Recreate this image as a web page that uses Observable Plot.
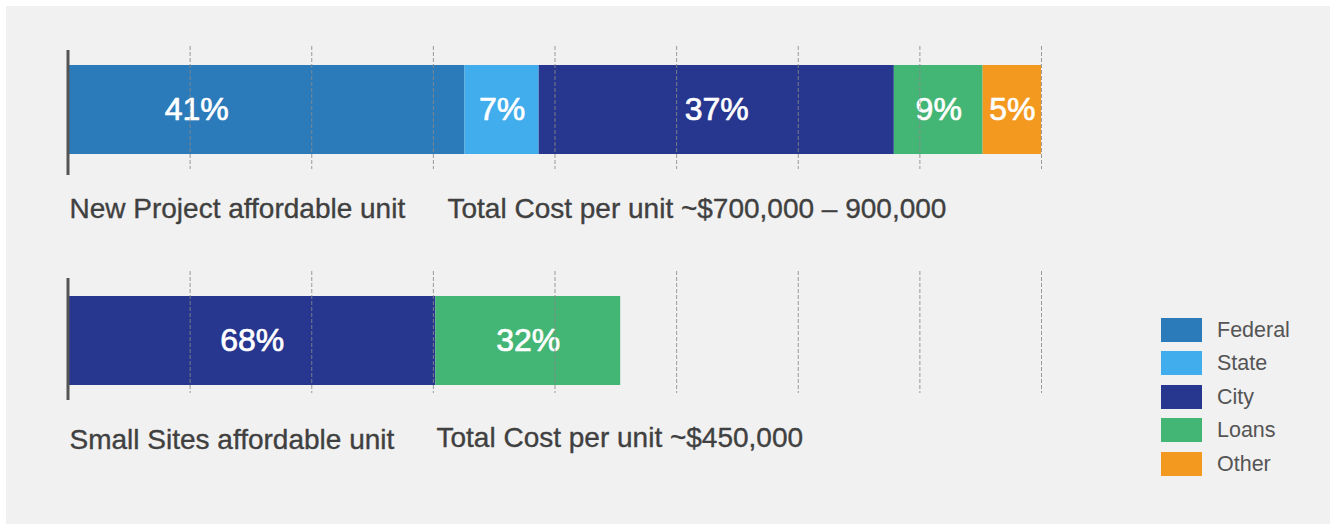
<!DOCTYPE html>
<html>
<head>
<meta charset="utf-8">
<script src="https://cdn.jsdelivr.net/npm/d3@7"></script>
<script src="https://cdn.jsdelivr.net/npm/@observablehq/plot@0.6"></script>
<style>
  html, body { margin: 0; padding: 0; background: #ffffff; }
  #wrap { position: relative; width: 1330px; height: 524px; background: #ffffff; overflow: hidden; font-family: "Liberation Sans", Arial, sans-serif; }
  #panel { position: absolute; left: 6px; top: 6px; right: 0; bottom: 0; background: #f1f1f1; }
  #chart { position: absolute; left: 0; top: 0; }
  #legend { position: absolute; left: 1161px; top: 313px; }
  .item { display: flex; align-items: center; height: 33.5px; }
  .sw { width: 41px; height: 24px; margin-right: 15px; }
  .lab { font-size: 21.5px; color: #555555; line-height: 24px; }
</style>
</head>
<body>
<div id="wrap">
  <div id="panel"></div>
  <div id="chart"></div>
  <div id="legend"></div>
</div>
<script>
// ---- data (values in thousands of dollars per unit) ----
const categories = ["Federal", "State", "City", "Loans", "Other"];
const colors = ["#2b7bbb", "#41adec", "#27368f", "#43b574", "#f4991f"];

const rows = ["New Project affordable unit", "Small Sites affordable unit"];
const costLabels = ["Total Cost per unit ~$700,000 – 900,000", "Total Cost per unit ~$450,000"];

const newProjectCategories = ["Federal", "State", "City", "Loans", "Other"];
const newProjectValues = [326, 61, 292, 73, 48];
const newProjectLabels = ["41%", "7%", "37%", "9%", "5%"];

const smallSitesCategories = ["City", "Loans"];
const smallSitesValues = [302, 152];
const smallSitesLabels = ["68%", "32%"];

const gridTicks = [100, 200, 300, 400, 500, 600, 700, 800];

// ---- build tables ----
const segments = [
  ...newProjectCategories.map((c, i) => ({row: rows[0], category: c, value: newProjectValues[i], label: newProjectLabels[i]})),
  ...smallSitesCategories.map((c, i) => ({row: rows[1], category: c, value: smallSitesValues[i], label: smallSitesLabels[i]}))
];
const rowTable = rows.map((r, i) => ({row: r, cost: costLabels[i]}));
const gridTop = gridTicks.map(t => ({x: t, row: rows[0]}));
const gridBottom = gridTicks.map(t => ({x: t, row: rows[1]}));

const font = "Liberation Sans, Arial, sans-serif";
const gridStyle = {stroke: "#8a8a8a", strokeOpacity: 0.85, strokeDasharray: "4,2", strokeWidth: 1};
const pctStyle = {fill: "white", stroke: "white", strokeWidth: 0.7, fontSize: 32, fontFamily: font};
const rowStyle = {fill: "#404040", stroke: "#404040", strokeWidth: 0.35, fontSize: 28, fontFamily: font, textAnchor: "start"};

const chart = Plot.plot({
  width: 1330,
  height: 524,
  marginLeft: 68,
  marginRight: 289,
  marginTop: 65,
  marginBottom: 139,
  style: {background: "transparent", fontFamily: font},
  x: {domain: [0, 800], axis: null},
  y: {domain: rows, axis: null, paddingInner: 0.615, paddingOuter: 0},
  color: {domain: categories, range: colors},
  marks: [
    Plot.barX(segments, Plot.stackX({x: "value", y: "row", fill: "category", order: null})),
    Plot.text(segments, Plot.stackX({
      x: "value", y: "row", z: "category", order: null,
      text: d => d.category === "Federal" ? null : d.label,
      ...pctStyle
    })),
    Plot.text(segments, Plot.stackX({
      x: "value", y: "row", z: "category", order: null,
      text: d => d.category === "Federal" ? d.label : null,
      dx: -70, ...pctStyle
    })),
    // dashed grid lines drawn above the bars
    Plot.tickX(gridTop, {x: "x", y: "row", insetTop: -19, insetBottom: -15, ...gridStyle}),
    Plot.tickX(gridBottom, {x: "x", y: "row", insetTop: -25, insetBottom: -8, ...gridStyle}),
    // left baseline
    Plot.tickX(rowTable.slice(0, 1), {x: () => 0, y: "row", dx: -0.5, insetTop: -15, insetBottom: -21, stroke: "#555555", strokeWidth: 3}),
    Plot.tickX(rowTable.slice(1), {x: () => 0, y: "row", dx: -0.5, insetTop: -18, insetBottom: -15, stroke: "#555555", strokeWidth: 3}),
    // row labels below bars
    Plot.text(rowTable, {x: () => 0, y: "row", text: "row", dx: 1, dy: 99, ...rowStyle}),
    Plot.text(rowTable.slice(0, 1), {x: () => 0, y: "row", text: "cost", dx: 379, dy: 99, ...rowStyle}),
    Plot.text(rowTable.slice(1), {x: () => 0, y: "row", text: "cost", dx: 368, dy: 97, ...rowStyle})
  ]
});
document.getElementById("chart").appendChild(chart);

// ---- legend ----
const legend = document.getElementById("legend");
categories.forEach((c, i) => {
  const item = document.createElement("div");
  item.className = "item";
  const sw = document.createElement("div");
  sw.className = "sw";
  sw.style.background = colors[i];
  const lab = document.createElement("div");
  lab.className = "lab";
  lab.textContent = c;
  item.appendChild(sw);
  item.appendChild(lab);
  legend.appendChild(item);
});
</script>
</body>
</html>
